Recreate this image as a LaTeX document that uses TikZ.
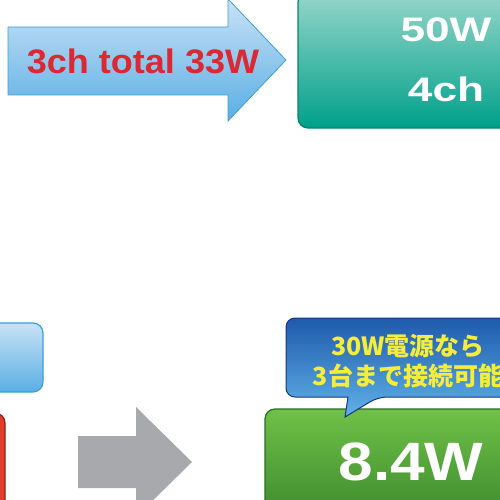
\documentclass[tikz,border=0pt]{standalone}
\usepackage{fontspec}
\setmainfont{Liberation Sans}
\newfontfamily\cjk{Noto Sans CJK JP}
\usepackage{tikz}
\usetikzlibrary{positioning}
\usepackage{xcolor}
\definecolor{skytop}{RGB}{200,226,246}
\definecolor{skybot}{RGB}{90,174,228}
\definecolor{skyline}{RGB}{60,160,216}
\definecolor{tealtop}{RGB}{150,214,202}
\definecolor{tealbot}{RGB}{0,160,138}
\definecolor{tealline}{RGB}{10,130,112}
\definecolor{redfill}{RGB}{222,62,42}
\definecolor{redline}{RGB}{150,30,30}
\definecolor{greyarrow}{RGB}{167,169,172}
\definecolor{bubtop}{RGB}{30,90,172}
\definecolor{bubbot}{RGB}{96,178,232}
\definecolor{bubline}{RGB}{26,52,130}
\definecolor{greentop}{RGB}{112,192,72}
\definecolor{greenbot}{RGB}{62,140,46}
\definecolor{greenline}{RGB}{40,110,36}
\definecolor{txtred}{RGB}{220,40,50}
\definecolor{txtyellow}{RGB}{245,236,60}

\begin{document}
\begin{tikzpicture}[x=1pt, y=-1pt,
  panel/.style={draw, line width=1.2pt, rounded corners=10pt, inner sep=0pt},
  bigtext/.style={font=\bfseries\fontsize{34}{60}\selectfont, text=white, align=center},
]
  \useasboundingbox (0,0) rectangle (500,500);
  \clip (0,0) rectangle (500,500);

  % top row
  \shade[top color=skytop, bottom color=skybot, draw=skyline, line width=0.8pt]
    (8,27) -- (228,27) -- (228,-1) -- (286,60) -- (228,121) -- (228,95) -- (8,95) -- cycle;
  \node[font=\bfseries\fontsize{34}{36}\selectfont, text=txtred, xscale=1.06] (total) at (143,61) {3ch total 33W};
  \node[panel, draw=tealline, top color=tealtop, bottom color=tealbot,
        minimum width=296pt, minimum height=136pt] (ch4) at (446,60) {};
  \node[bigtext, xscale=1.3] (ch4text) at (ch4) {50W\\4ch};

  % bottom row
  \node[panel, draw=skyline, top color=skytop, bottom color=skybot,
        minimum width=120pt, minimum height=69pt] (blue) at (-17,357.5) {};
  \node[panel, draw=redline, fill=redfill, minimum width=120pt, minimum height=160pt] (red) at (-55,493) {};
  \fill[greyarrow] (78,436) -- (136,436) -- (136,407) -- (192,462) -- (136,517) -- (136,488) -- (78,488) -- cycle;

  \node[panel, draw=greenline, top color=greentop, bottom color=greenbot,
        minimum width=292pt, minimum height=106pt] (watt) at (411,462) {};
  \node[font=\bfseries\fontsize{54}{60}\selectfont, text=white, xscale=1.15] (watttext) at (watt) {8.4W};
  \shade[top color=bubtop, bottom color=bubbot, draw=bubline, line width=1pt, rounded corners=9pt]
    (286,318) -- (526,318) -- (526,397) -- (378,397) [sharp corners] -- (345,417) -- (348,397)
    [rounded corners=9pt] -- (286,397) -- cycle;
  \node[font=\cjk\bfseries\fontsize{25}{30}\selectfont, text=txtyellow, align=center] (bubble) at (408,361)
    {30W電源なら\\3台まで接続可能};
\end{tikzpicture}
\end{document}
